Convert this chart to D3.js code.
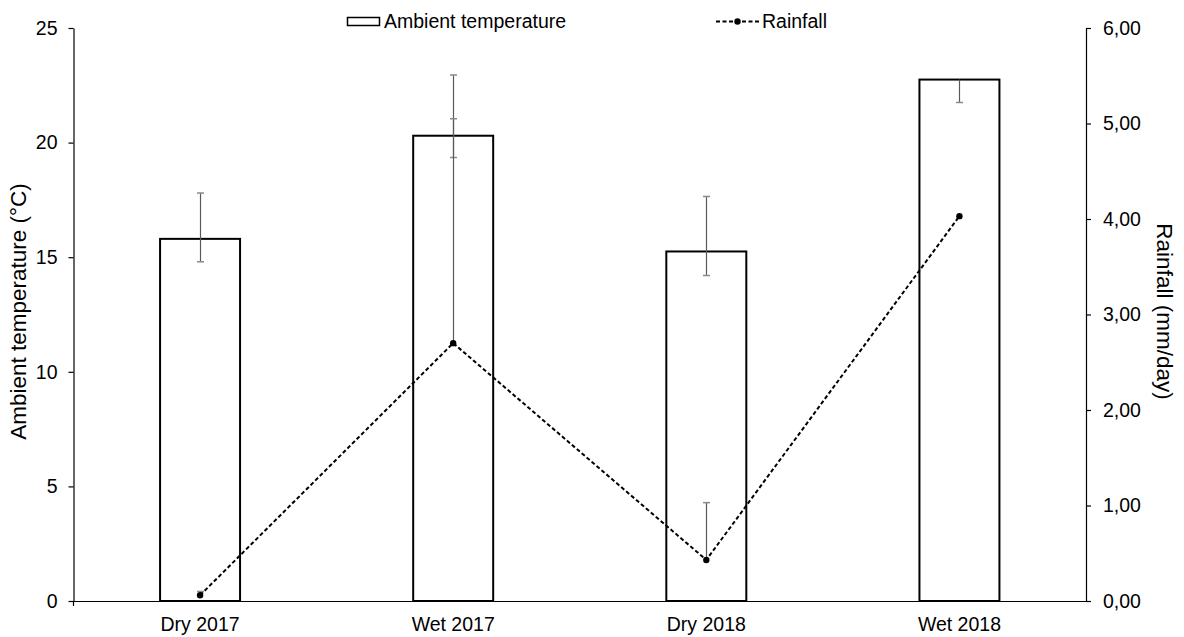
<!DOCTYPE html>
<html>
<head>
<meta charset="utf-8">
<script src="https://cdn.jsdelivr.net/npm/d3@7"></script>
<style>
  html, body { margin: 0; padding: 0; background: #fff; }
  svg { display: block; font-family: "Liberation Sans", Arial, sans-serif; }
</style>
</head>
<body>
<svg id="chart" width="1184" height="637"></svg>
<script>
// Seasons on the category axis
const categories = ["Dry 2017", "Wet 2017", "Dry 2018", "Wet 2018"];

// Mean ambient temperature (°C) with upper / lower error lengths
const temperature = [15.8, 20.3, 15.25, 22.75];
const tempErrPlus = [2.0, 2.65, 2.4, 0];
const tempErrMinus = [1.0, 0.95, 1.05, 1.0];

// Mean rainfall (mm/day) with upper error lengths
const rainfall = [0.06, 2.70, 0.43, 4.03];
const rainErrPlus = [0.04, 2.35, 0.60, 0];

// Axis ticks
const tempTicks = [0, 5, 10, 15, 20, 25];
const rainTicks = [0, 1, 2, 3, 4, 5, 6];

const svg = d3.select("#chart");
const plotLeft = 73.5, plotRight = 1086, plotTop = 28, plotBottom = 601;
const fontSize = 19.5;
const titleSize = 22.5;

const x = d3.scaleBand().domain(categories).range([plotLeft, plotRight]).padding(0);
const yT = d3.scaleLinear().domain([0, 25]).range([plotBottom, plotTop]);
const yR = d3.scaleLinear().domain([0, 6]).range([plotBottom, plotTop]);
const barW = x.bandwidth() * 0.316;
const cx = c => x(c) + x.bandwidth() / 2;

const comma = d3.formatLocale({ decimal: ",", thousands: ".", grouping: [3], currency: ["", ""] });

// Bars
svg.append("g").selectAll("rect")
  .data(categories)
  .join("rect")
  .attr("x", c => cx(c) - barW / 2)
  .attr("y", (c, i) => yT(temperature[i]))
  .attr("width", barW)
  .attr("height", (c, i) => yT(0) - yT(temperature[i]))
  .attr("fill", "#fff")
  .attr("stroke", "#000")
  .attr("stroke-width", 2);

// Error bars (vertical stem + cap)
function errorBars(values, plus, minus, scale) {
  const g = svg.append("g").attr("stroke", "#5a5a5a").attr("stroke-width", 1.2);
  categories.forEach((c, i) => {
    const hi = values[i] + plus[i];
    const lo = values[i] - (minus ? minus[i] : 0);
    const xc = Math.round(cx(c)) + 0.5;
    g.append("line").attr("x1", xc).attr("x2", xc)
      .attr("y1", scale(hi)).attr("y2", scale(lo));
    if (plus[i] > 0) {
      g.append("line").attr("x1", xc - 3.5).attr("x2", xc + 3.5)
        .attr("y1", scale(hi)).attr("y2", scale(hi)).attr("stroke", "#8a8a8a").attr("stroke-width", 1.5);
    }
    if (minus && minus[i] > 0) {
      g.append("line").attr("x1", xc - 3.5).attr("x2", xc + 3.5)
        .attr("y1", scale(lo)).attr("y2", scale(lo)).attr("stroke", "#8a8a8a").attr("stroke-width", 1.5);
    }
  });
}
errorBars(temperature, tempErrPlus, tempErrMinus, yT);
errorBars(rainfall, rainErrPlus, null, yR);

// Rainfall line
const line = d3.line().x((d, i) => cx(categories[i])).y(d => yR(d));
svg.append("path")
  .datum(rainfall)
  .attr("d", line)
  .attr("fill", "none")
  .attr("stroke", "#000")
  .attr("stroke-width", 2)
  .attr("stroke-dasharray", "4,2.5");
svg.append("g").selectAll("circle")
  .data(rainfall)
  .join("circle")
  .attr("cx", (d, i) => cx(categories[i]))
  .attr("cy", d => yR(d))
  .attr("r", 3.2)
  .attr("fill", "#000");

// Axes
const axisL = svg.append("g").attr("transform", `translate(${plotLeft},0)`)
  .call(d3.axisLeft(yT).tickValues(tempTicks).tickSize(5).tickSizeOuter(0).tickPadding(11).tickFormat(d3.format("d")));
const axisR = svg.append("g").attr("transform", `translate(${plotRight},0)`)
  .call(d3.axisRight(yR).tickValues(rainTicks).tickSize(5).tickSizeOuter(0).tickPadding(12).tickFormat(comma.format(".2f")));
const axisB = svg.append("g").attr("transform", `translate(0,${plotBottom})`)
  .call(d3.axisBottom(x).tickSize(0).tickSizeOuter(0).tickPadding(0));
axisB.selectAll("text").attr("y", 29.5).attr("dy", 0);

[axisL, axisR, axisB].forEach(g => {
  g.selectAll("text").attr("font-size", fontSize).attr("fill", "#000")
    .attr("font-family", "'Liberation Sans', Arial, sans-serif");
  g.selectAll("path, line").attr("stroke", "#000").attr("stroke-width", 1.2);
});
// small downward extension at the left end of the category axis
svg.append("line").attr("x1", plotLeft).attr("x2", plotLeft).attr("y1", plotBottom).attr("y2", plotBottom + 5)
  .attr("stroke", "#000").attr("stroke-width", 1.2);

// Axis titles
const titleY = (plotTop + plotBottom) / 2 - 3;
svg.append("text")
  .attr("transform", `translate(26,${titleY}) rotate(-90)`)
  .attr("text-anchor", "middle")
  .attr("font-size", titleSize)
  .text("Ambient temperature (°C)");
svg.append("text")
  .attr("transform", `translate(1157,${titleY}) rotate(90)`)
  .attr("text-anchor", "middle")
  .attr("font-size", titleSize)
  .text("Rainfall (mm/day)");

// Legend
const lg = svg.append("g");
lg.append("rect").attr("x", 347.5).attr("y", 17.5).attr("width", 32).attr("height", 8)
  .attr("fill", "#fff").attr("stroke", "#000").attr("stroke-width", 1.5);
lg.append("text").attr("x", 384).attr("y", 28).attr("font-size", fontSize).text("Ambient temperature");
lg.append("line").attr("x1", 716).attr("x2", 759).attr("y1", 21.5).attr("y2", 21.5)
  .attr("stroke", "#000").attr("stroke-width", 2).attr("stroke-dasharray", "4,2.5");
lg.append("circle").attr("cx", 737.5).attr("cy", 21.5).attr("r", 3.2).attr("fill", "#000");
lg.append("text").attr("x", 762).attr("y", 28).attr("font-size", fontSize).text("Rainfall");
</script>
</body>
</html>
